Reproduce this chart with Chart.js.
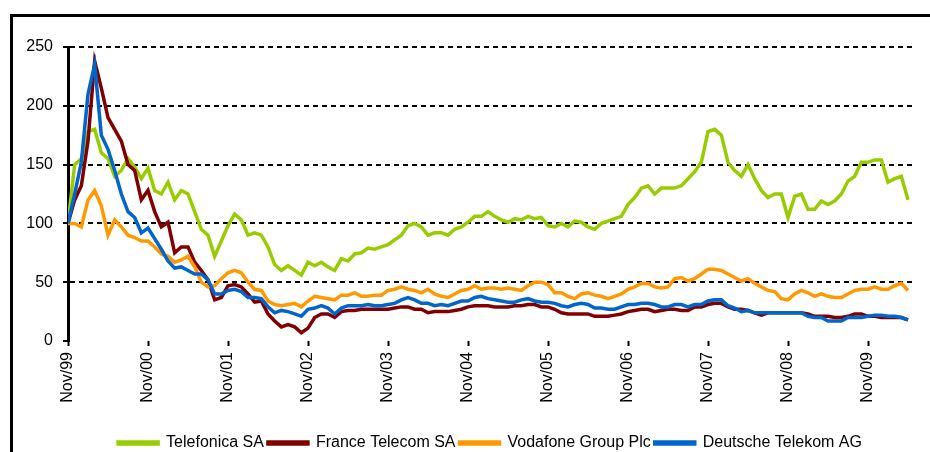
<!DOCTYPE html>
<html>
<head>
<meta charset="utf-8">
<script src="https://cdn.jsdelivr.net/npm/chart.js@4/dist/chart.umd.min.js"></script>
<style>
  html, body { margin: 0; padding: 0; background: #fff; overflow: hidden; }
  canvas { display: block; }
</style>
</head>
<body>
<canvas id="telcoChart" width="930" height="452"></canvas>
<script>
// monthly values, index 0 = Nov/99 (rebased to 100)
const seriesNames = ['Telefonica SA', 'France Telecom SA', 'Vodafone Group Plc', 'Deutsche Telekom AG'];
const tickMonths = [0, 12, 24, 36, 48, 60, 72, 84, 96, 108, 120];
const tickLabels = ['Nov/99', 'Nov/00', 'Nov/01', 'Nov/02', 'Nov/03', 'Nov/04', 'Nov/05', 'Nov/06', 'Nov/07', 'Nov/08', 'Nov/09'];
const yTicks = [0, 50, 100, 150, 200, 250];

const telefonica = [
    100, 150, 155, 178, 180, 160, 155, 140, 145, 155, 148, 138,
    147, 128, 125, 135, 120, 128, 125, 110, 95, 90, 72, 85,
    98, 108, 103, 90, 92, 90, 80, 65, 60, 64, 60, 56,
    67, 64, 67, 63, 60, 70, 68, 74, 75, 79, 78, 80,
    82, 86, 90, 98, 100, 97, 90, 92, 92, 90, 95, 97,
    101, 106, 106, 110, 106, 103, 101, 104, 103, 106, 104, 105,
    98, 97, 100, 97, 102, 101, 97, 95, 100, 102, 104, 106,
    116, 122, 130, 132, 125, 130, 130, 130, 132, 138, 144, 152,
    178, 180, 175, 152, 145, 140, 150, 138, 128, 122, 125, 125,
    105, 123, 125, 112, 112, 119, 116, 119, 125, 136, 140, 152,
    152, 154, 154, 135, 138, 140, 120
];
const franceTelecom = [
    100, 120, 132, 170, 238, 215, 190, 180, 170, 150, 145, 120,
    128, 110, 97, 101, 75, 80, 80, 67, 60, 52, 35, 37,
    47, 48, 46, 40, 33, 34, 23, 17, 12, 14, 12, 7,
    11, 20, 23, 23, 20, 25, 26, 26, 27, 27, 27, 27,
    27, 28, 29, 29, 27, 27, 24, 25, 25, 25, 26, 27,
    29, 30, 30, 30, 29, 29, 29, 30, 30, 31, 31, 29,
    29, 27, 24, 23, 23, 23, 23, 21, 21, 21, 22, 23,
    25, 26, 27, 27, 25, 26, 27, 27, 26, 26, 29, 29,
    31, 32, 32, 29, 27, 27, 26, 24, 22, 24, 24, 24,
    24, 24, 24, 23, 21, 21, 21, 20, 20, 21, 23, 23,
    21, 21, 20, 20, 20, 20, 18
];
const vodafone = [
    100, 100, 97, 120, 128, 115, 90, 103, 97, 90, 88, 85,
    85, 80, 74, 72, 67, 69, 72, 63, 50, 46, 47, 53,
    58, 60, 58, 50, 44, 43, 34, 31, 30, 31, 32, 29,
    34, 38, 37, 36, 35, 39, 39, 41, 38, 38, 39, 39,
    43, 44, 46, 44, 43, 41, 44, 40, 38, 37, 40, 43,
    44, 47, 44, 45, 45, 44, 45, 44, 43, 47, 50, 50,
    48, 41, 41, 38, 36, 40, 41, 39, 38, 36, 38, 40,
    44, 46, 49, 49, 46, 45, 46, 53, 54, 51, 53, 57,
    61, 61, 60, 57, 54, 51, 53, 49, 46, 43, 42, 36,
    35, 40, 43, 41, 38, 40, 38, 37, 37, 40, 43, 44,
    44, 46, 44, 44, 47, 49, 43
];
const deutscheTelekom = [
    100, 125, 152, 210, 235, 175, 163, 145, 125, 110, 105, 92,
    96, 87, 78, 68, 62, 63, 60, 57, 57, 52, 40, 40,
    43, 44, 42, 37, 37, 36, 29, 24, 26, 25, 23, 21,
    27, 28, 30, 28, 23, 28, 30, 30, 30, 31, 30, 30,
    31, 32, 35, 37, 35, 32, 32, 30, 31, 30, 32, 34,
    34, 37, 38, 36, 35, 34, 33, 33, 35, 36, 34, 33,
    33, 32, 30, 29, 31, 32, 31, 28, 28, 27, 27, 29,
    31, 31, 32, 32, 31, 29, 29, 31, 31, 29, 31, 31,
    34, 35, 35, 30, 28, 25, 26, 24, 24, 24, 24, 24,
    24, 24, 24, 21, 20, 20, 17, 17, 17, 20, 20, 20,
    21, 22, 22, 21, 21, 20, 18
];

const colors = ['#99cc00', '#800000', '#ff9900', '#0066cc'];
const allSeries = [telefonica, franceTelecom, vodafone, deutscheTelekom];

const frame = {
    id: 'frame',
    afterDraw(chart) {
        const c = chart.ctx;
        c.save();
        c.strokeStyle = '#000';
        c.lineWidth = 3;
        c.strokeRect(11.5, 15.5, 1000, 1000);
        c.restore();
    }
};

const ctx = document.getElementById('telcoChart').getContext('2d');
const chart = new Chart(ctx, {
    type: 'line',
    data: {
        datasets: allSeries.map((vals, k) => ({
            label: seriesNames[k],
            data: vals.map((v, i) => ({ x: i, y: v })),
            borderColor: colors[k],
            backgroundColor: colors[k],
            borderWidth: 3.5,
            pointRadius: 0,
            tension: 0,
            order: 3 - k
        }))
    },
    options: {
        responsive: false,
        devicePixelRatio: 1,
        animation: false,
        layout: { padding: { top: 47, left: 12, right: 18, bottom: -9 } },
        plugins: {
            tooltip: { enabled: false },
            legend: {
                position: 'bottom',
                reverse: true,
                fullSize: false,
                labels: {
                    color: '#000',
                    font: { family: 'Liberation Sans, Arial, sans-serif', size: 16 },
                    boxWidth: 40,
                    boxHeight: 2,
                    padding: 4
                }
            }
        },
        scales: {
            x: {
                type: 'linear',
                min: 0,
                max: 126.6,
                afterBuildTicks: s => { s.ticks = tickMonths.map(v => ({ value: v })); },
                afterFit: s => { s.height = 90; },
                border: { display: false },
                grid: { drawOnChartArea: false, drawTicks: true, tickLength: 5, tickColor: '#000', tickWidth: 2 },
                ticks: {
                    autoSkip: false,
                    maxRotation: 90,
                    minRotation: 90,
                    padding: 6,
                    color: '#000',
                    font: { family: 'Liberation Sans, Arial, sans-serif', size: 16 },
                    callback: v => tickLabels[tickMonths.indexOf(v)]
                }
            },
            y: {
                min: 0,
                max: 250,
                afterBuildTicks: s => { s.ticks = yTicks.map(v => ({ value: v })); },
                afterFit: s => { s.width = 56; },
                border: { display: true, color: '#000', width: 3, dash: [5, 4] },
                grid: {
                    color: c => c.tick && c.tick.value === 0 ? 'rgba(0,0,0,0)' : '#000',
                    lineWidth: 2,
                    tickLength: 5,
                    tickColor: '#000'
                },
                ticks: {
                    padding: 10,
                    color: '#000',
                    font: { family: 'Liberation Sans, Arial, sans-serif', size: 16 }
                }
            }
        }
    },
    plugins: [frame]
});
</script>
</body>
</html>
